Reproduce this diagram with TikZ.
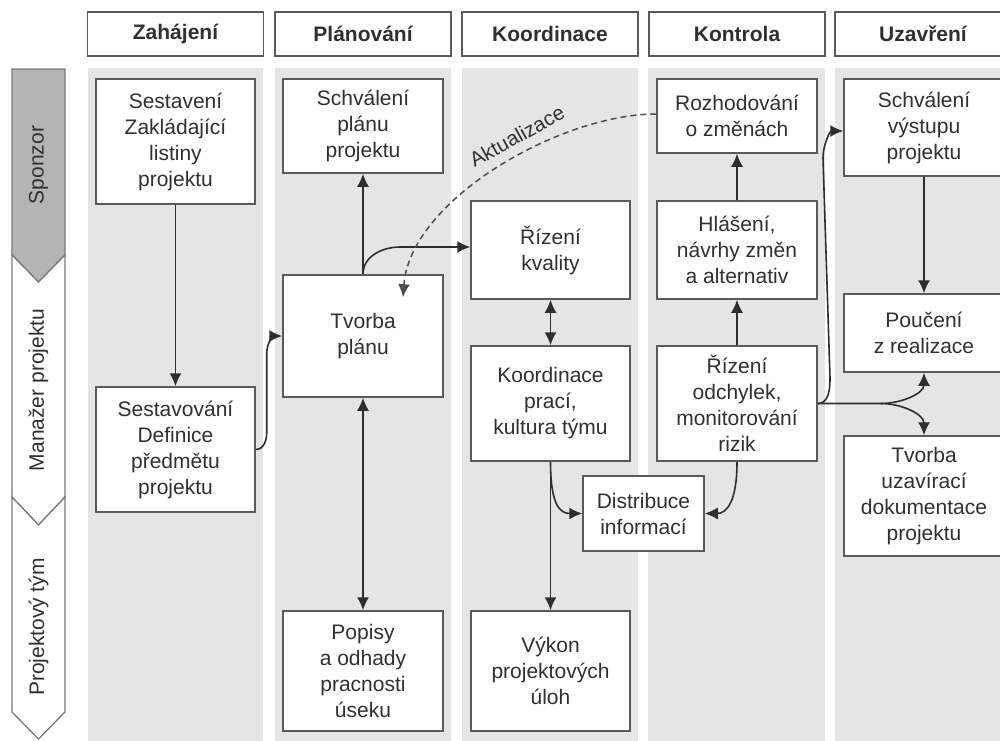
\documentclass[tikz,border=0pt]{standalone}
\usepackage{fontspec}
\setmainfont{Liberation Sans}
\usetikzlibrary{arrows.meta,calc}
\definecolor{lanegray}{HTML}{E5E5E5}
\definecolor{sponzgray}{HTML}{B4B4B4}
\definecolor{boxline}{HTML}{5A5A5A}
\definecolor{chevline}{HTML}{7A7A7A}
\definecolor{lncol}{HTML}{2E2E2E}
\definecolor{txt}{HTML}{303030}
\begin{document}
\begin{tikzpicture}[x=1pt,y=-1pt,
  box/.style={draw=boxline, line width=1.5pt, fill=white, text=txt, align=center, inner sep=0pt,
    font=\fontsize{21}{26}\selectfont},
  hdr/.style={draw=boxline, line width=1.5pt, fill=white, text=txt, minimum width=176pt, minimum height=44pt,
    inner sep=0pt, font=\bfseries\fontsize{21}{26}\selectfont},
  lane/.style={text=txt, rotate=90, font=\fontsize{21}{26}\selectfont},
  chev/.style={draw=chevline, line width=1.3pt},
  tip/.style={},
  arr/.style={draw=lncol, line width=1.6pt, -{Latex[length=13pt,width=12pt]}},
  darr/.style={draw=lncol, line width=1.6pt, {Latex[length=13pt,width=12pt]}-{Latex[length=13pt,width=12pt]}},
  dasharr/.style={draw=lncol!85, line width=1.5pt, dash pattern=on 6pt off 4pt, -{Latex[length=13pt,width=12pt]}}
]
\useasboundingbox (0,0) rectangle (1000,740);
\clip (0,0) rectangle (1000,740);
\fill[white] (0,0) rectangle (1000,740);

% lanes
\fill[lanegray] (88,68) rectangle (263,745);
\fill[lanegray] (275,68) rectangle (451,745);
\fill[lanegray] (462,68) rectangle (638,745);
\fill[lanegray] (648,68) rectangle (825,745);
\fill[lanegray] (835,68) rectangle (1010,745);

% headers
\node[hdr] (h1) at (175.5,34) {Zahájení};
\node[hdr] (h2) at (363,34) {Plánování};
\node[hdr] (h3) at (550,34) {Koordinace};
\node[hdr] (h4) at (737,34) {Kontrola};
\node[hdr] (h5) at (923,34) {Uzavření};

% left chevrons
\draw[chev, fill=sponzgray] (12,69) -- (65,69) -- (65,255) -- (38.5,282) -- (12,255) -- cycle;
\draw[chev, fill=white] (12,255) -- (38.5,282) -- (65,255) -- (65,497) -- (38.5,525) -- (12,497) -- cycle;
\draw[chev, fill=white] (12,497) -- (38.5,525) -- (65,497) -- (65,712) -- (38.5,739) -- (12,712) -- cycle;
\node[lane] (l1) at (38.5,165) {Sponzor};
\node[lane] (l2) at (38.5,390) {Manažer projektu};
\node[lane] (l3) at (38.5,627) {Projektový tým};

% boxes
\node[box, minimum width=159pt, minimum height=125pt] (zakl) at (175.5,141.5) {Sestavení\\Zakládající\\listiny\\projektu};
\node[box, minimum width=159pt, minimum height=125pt] (defin) at (175.5,449.5) {Sestavování\\Definice\\předmětu\\projektu};
\node[box, minimum width=160pt, minimum height=94pt] (schvp) at (363,126) {Schválení\\plánu\\projektu};
\node[box, minimum width=160pt, minimum height=122pt] (tvorba) at (363,336) {Tvorba\\plánu};
\node[box, minimum width=160pt, minimum height=120pt] (popisy) at (363,671) {Popisy\\a odhady\\pracnosti\\úseku};
\node[box, minimum width=159pt, minimum height=98pt] (kval) at (550.5,250) {Řízení\\kvality};
\node[box, minimum width=159pt, minimum height=115pt] (koord) at (550.5,403.5) {Koordinace\\prací,\\kultura týmu};
\node[box, minimum width=121pt, minimum height=75pt] (distr) at (643.5,513.5) {Distribuce\\informací};
\node[box, minimum width=159pt, minimum height=120pt] (vykon) at (550.5,671) {Výkon\\projektových\\úloh};
\node[box, minimum width=160pt, minimum height=74pt] (rozh) at (737,116) {Rozhodování\\o změnách};
\node[box, minimum width=160pt, minimum height=98pt] (hlas) at (737,250) {Hlášení,\\návrhy změn\\a alternativ};
\node[box, minimum width=160pt, minimum height=115pt] (odch) at (737,403.5) {Řízení\\odchylek,\\monitorování\\rizik};
\node[box, minimum width=160pt, minimum height=97pt] (schvv) at (924,127.5) {Schválení\\výstupu\\projektu};
\node[box, minimum width=160pt, minimum height=78pt] (pouc) at (924,333) {Poučení\\z realizace};
\node[box, minimum width=160pt, minimum height=120pt] (uzdok) at (924,496) {Tvorba\\uzavírací\\dokumentace\\projektu};

% connectors
\draw[arr] (zakl.south) -- (defin.north);
\draw[arr] (defin.east) to[out=0,in=-90] ++(11,-17) -- ++(0,-80) to[out=90,in=180] (tvorba.west);
\draw[arr] (tvorba.north) -- (schvp.south);
\draw[darr] (tvorba.south) -- (popisy.north);
\draw[arr] (tvorba.north) to[out=90,in=180] ($(kval.west)+(-70,-3)$) -- ($(kval.west)+(0,-3)$);
\draw[dasharr] ($(rozh.west)+(0,-2)$) .. controls (560,114) and (410,200) .. ($(tvorba.north)+(40,23)$);
\node[text=txt, rotate=29, font=\fontsize{20.5}{24}\selectfont] (akt) at (517,136) {Aktualizace};
\draw[darr] (kval.south) -- (koord.north);
\draw[arr] (koord.south) -- (vykon.north);
\draw[arr] (koord.south) .. controls ($(koord.south)+(0,44)$) and ($(distr.west)+(-22,0)$) .. (distr.west);
\draw[arr] (odch.south) .. controls ($(odch.south)+(0,40)$) and ($(distr.east)+(22,0)$) .. (distr.east);
\draw[arr] (hlas.north) -- (rozh.south);
\draw[arr] (odch.north) -- (hlas.south);
\draw[arr] (odch.east) to[out=0,in=-90] (830,378) -- (823,158) to[out=90,in=180] ($(schvv.west)+(0,3.5)$);
\coordinate (split) at ($(odch.east)+(63,0)$);
\draw[arr] (odch.east) -- (split) to[out=0,in=-90] (pouc.south);
\draw[arr] (split) to[out=0,in=90] (uzdok.north);
\draw[arr] (schvv.south) -- (pouc.north);
\end{tikzpicture}
\end{document}
